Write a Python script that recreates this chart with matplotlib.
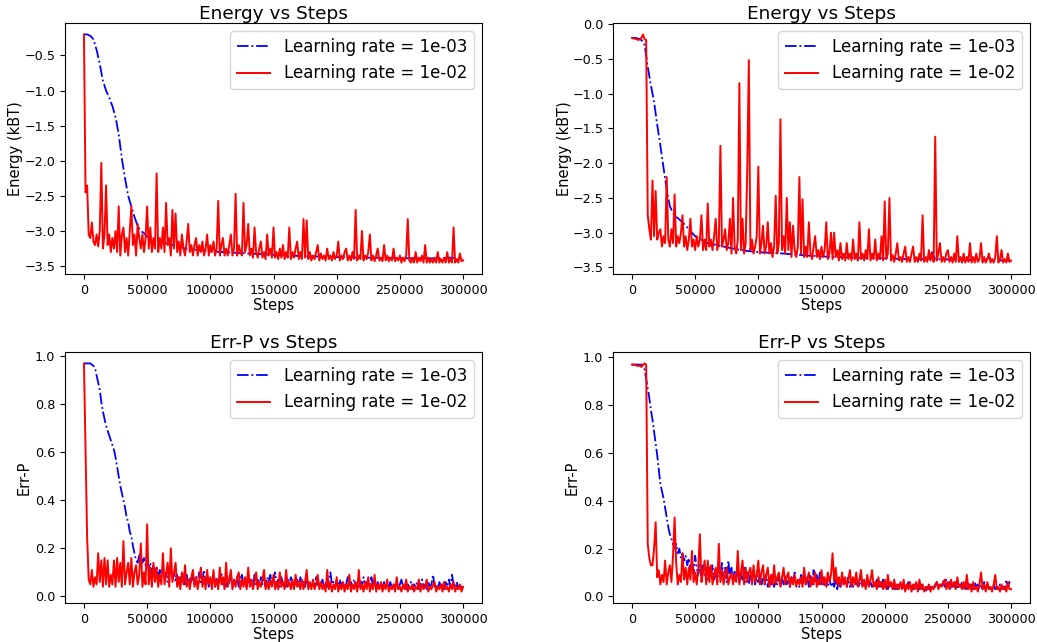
import numpy as np
import matplotlib
matplotlib.use("Agg")
import matplotlib.pyplot as plt

# ---------------- data ----------------
steps = np.arange(0, 300001, 1250)

# Energy, lr 1e-03 (smooth curves)
e1_blue_x = [0, 2500, 5000, 7500, 10000, 12500, 15000, 17500, 20000, 22500,
             25000, 27500, 30000, 32500, 35000, 37500, 40000, 42500, 45000, 47500,
             50000, 55000, 60000, 70000, 80000, 90000, 100000, 120000, 140000, 160000,
             180000, 200000, 220000, 240000, 260000, 280000, 290000, 300000]
e1_blue = [-0.20, -0.20, -0.22, -0.27, -0.42, -0.62, -0.86, -1.00, -1.10, -1.22,
           -1.38, -1.62, -1.97, -2.25, -2.50, -2.65, -2.80, -2.93, -3.00, -3.03,
           -3.08, -3.12, -3.15, -3.20, -3.25, -3.27, -3.29, -3.31, -3.33, -3.35,
           -3.36, -3.37, -3.38, -3.38, -3.39, -3.39, -3.38, -3.40]

e2_blue_x = [0, 2500, 5000, 7500, 10000, 12500, 15000, 17500, 20000, 22500,
             25000, 27500, 30000, 32500, 35000, 40000, 45000, 50000, 55000, 60000,
             70000, 80000, 90000, 100000, 120000, 140000, 160000, 180000, 200000, 220000,
             235000, 237500, 240000, 260000, 280000, 282500, 285000, 300000]
e2_blue = [-0.20, -0.20, -0.21, -0.23, -0.30, -0.62, -0.88, -1.12, -1.45, -1.75,
           -2.07, -2.38, -2.62, -2.72, -2.77, -2.85, -2.95, -3.05, -3.10, -3.15,
           -3.19, -3.23, -3.26, -3.28, -3.30, -3.33, -3.35, -3.36, -3.37, -3.38,
           -3.38, -3.28, -3.38, -3.39, -3.40, -3.35, -3.40, -3.40]

# Energy, lr 1e-02 (one value every 1250 steps)
e1_red = [
    -0.20, -2.45, -2.35, -3.05, -3.10, -2.88, -3.15, -3.20, -3.05, -3.22,
    -3.00, -2.03, -3.25, -3.05, -2.35, -3.20, -3.05, -3.30, -3.10, -3.25,
    -3.00, -3.30, -2.65, -3.35, -3.05, -2.95, -3.30, -3.10, -3.35, -3.00,
    -2.65, -3.20, -3.05, -3.35, -2.90, -3.10, -3.25, -3.05, -3.30, -3.10,
    -2.65, -3.25, -2.95, -3.30, -3.10, -3.25, -2.18, -3.30, -3.10, -3.25,
    -2.95, -3.30, -2.60, -3.20, -3.10, -3.35, -2.70, -3.25, -2.75, -3.30,
    -3.15, -3.35, -3.05, -3.25, -3.35, -3.15, -2.90, -3.30, -3.20, -3.35,
    -3.20, -3.10, -3.35, -3.20, -3.30, -3.15, -3.35, -3.25, -3.05, -3.35,
    -3.20, -3.30, -3.15, -3.35, -3.25, -2.57, -3.35, -3.20, -3.10, -3.35,
    -3.25, -3.35, -3.20, -3.05, -3.35, -3.25, -2.47, -3.35, -3.20, -3.30,
    -3.35, -2.60, -3.30, -3.20, -2.90, -3.35, -3.25, -3.38, -2.95, -3.30,
    -3.38, -3.25, -3.15, -3.38, -3.30, -3.40, -3.05, -3.35, -3.25, -3.38,
    -2.95, -3.38, -3.30, -3.40, -3.25, -3.38, -3.20, -3.40, -3.30, -3.38,
    -2.95, -3.40, -3.30, -3.38, -3.25, -3.15, -3.40, -3.30, -3.40, -2.83,
    -3.38, -2.85, -3.40, -3.30, -3.42, -3.35, -3.40, -3.30, -3.20, -3.42,
    -3.32, -3.40, -3.35, -3.42, -3.25, -3.40, -3.35, -3.42, -3.30, -3.40,
    -3.35, -3.15, -3.42, -3.35, -3.40, -3.30, -3.25, -3.42, -3.35, -3.42,
    -3.30, -3.40, -2.70, -3.42, -3.35, -3.40, -3.00, -3.42, -3.35, -3.40,
    -3.30, -3.05, -3.42, -3.35, -3.43, -3.35, -3.25, -3.42, -3.38, -3.43,
    -3.20, -3.42, -3.35, -3.43, -3.38, -3.42, -3.25, -3.43, -3.38, -3.42,
    -3.35, -3.45, -3.38, -3.43, -3.35, -2.83, -3.42, -3.45, -3.38, -3.45,
    -3.30, -3.45, -3.38, -3.43, -3.35, -3.45, -3.20, -3.45, -3.38, -3.45,
    -3.40, -3.45, -3.38, -3.45, -3.30, -3.45, -3.40, -3.45, -3.38, -3.45,
    -3.30, -3.45, -3.40, -3.45, -2.95, -3.45, -3.40, -3.45, -3.32, -3.43,
    -3.42]

e2_red = [
    -0.20, -0.21, -0.21, -0.22, -0.23, -0.22, -0.20, -0.15, -0.22, -0.23,
    -2.75, -2.95, -3.10, -2.25, -3.05, -2.40, -3.10, -3.00, -2.95, -3.20,
    -3.05, -3.15, -2.20, -3.10, -3.20, -2.95, -3.15, -2.45, -3.20, -3.05,
    -3.15, -3.00, -2.75, -3.20, -3.05, -3.25, -3.10, -2.80, -3.20, -3.10,
    -3.25, -3.05, -3.20, -3.10, -2.75, -3.25, -3.10, -3.25, -2.58, -3.20,
    -3.10, -3.25, -3.05, -2.80, -3.25, -3.15, -1.75, -3.20, -3.10, -2.95,
    -3.25, -3.15, -2.80, -3.30, -2.50, -3.20, -3.30, -3.10, -0.85, -3.25,
    -2.80, -3.30, -3.15, -2.08, -0.52, -3.25, -3.10, -3.30, -3.20, -3.05,
    -2.05, -3.30, -3.15, -2.90, -3.30, -3.20, -2.85, -3.30, -3.15, -3.35,
    -3.20, -2.47, -3.30, -3.15, -1.37, -3.25, -3.05, -3.30, -2.50, -3.25,
    -2.85, -3.35, -2.90, -3.25, -3.35, -3.20, -2.20, -3.30, -2.52, -3.35,
    -3.20, -3.35, -2.85, -3.30, -3.38, -3.20, -3.05, -3.35, -3.25, -3.38,
    -3.20, -3.35, -3.25, -2.85, -3.38, -3.30, -3.00, -3.38, -3.00, -3.35,
    -3.25, -3.40, -3.15, -3.38, -3.30, -3.40, -3.15, -3.38, -3.30, -3.40,
    -3.10, -3.38, -3.30, -3.40, -2.85, -3.38, -3.30, -3.40, -3.25, -3.38,
    -2.95, -3.40, -3.30, -3.38, -3.10, -3.40, -3.30, -3.38, -3.05, -3.40,
    -2.55, -3.38, -3.30, -2.50, -3.40, -3.32, -3.42, -3.30, -3.15, -3.40,
    -3.35, -3.42, -3.30, -3.20, -3.42, -3.35, -3.42, -3.30, -3.20, -3.42,
    -3.35, -3.42, -3.30, -3.40, -2.75, -3.42, -3.35, -3.42, -3.25, -3.40,
    -3.30, -3.42, -1.62, -3.40, -3.30, -3.15, -3.42, -3.35, -3.42, -3.30,
    -3.25, -3.42, -3.35, -3.43, -3.30, -3.42, -3.05, -3.42, -3.35, -3.43,
    -3.30, -3.43, -3.35, -3.42, -3.15, -3.43, -3.35, -3.43, -3.30, -3.42,
    -3.38, -3.15, -3.43, -3.35, -3.43, -3.38, -3.30, -3.43, -3.38, -3.43,
    -3.35, -3.05, -3.43, -3.38, -3.25, -3.43, -3.38, -3.43, -3.30, -3.42,
    -3.40]

# Err-P, lr 1e-03
p1_blue = [
    0.97, 0.97, 0.97, 0.97, 0.97, 0.965, 0.96, 0.95, 0.92, 0.89,
    0.86, 0.81, 0.77, 0.74, 0.71, 0.69, 0.67, 0.65, 0.63, 0.61,
    0.58, 0.54, 0.50, 0.46, 0.43, 0.40, 0.37, 0.33, 0.31, 0.27,
    0.25, 0.21, 0.18, 0.15, 0.14, 0.17, 0.18, 0.14, 0.16, 0.13,
    0.15, 0.12, 0.14, 0.10, 0.13, 0.09, 0.12, 0.08, 0.11, 0.08,
    0.12, 0.07, 0.10, 0.06, 0.09, 0.11, 0.07, 0.10, 0.06, 0.09,
    0.05, 0.08, 0.06, 0.10, 0.05, 0.09, 0.05, 0.08, 0.06, 0.09,
    0.05, 0.08, 0.06, 0.10, 0.05, 0.07, 0.11, 0.05, 0.08, 0.04,
    0.07, 0.05, 0.09, 0.04, 0.08, 0.05, 0.07, 0.10, 0.05, 0.08,
    0.04, 0.07, 0.05, 0.09, 0.04, 0.07, 0.05, 0.08, 0.04, 0.07,
    0.09, 0.05, 0.07, 0.04, 0.08, 0.05, 0.07, 0.04, 0.09, 0.05,
    0.07, 0.04, 0.08, 0.05, 0.07, 0.04, 0.08, 0.06, 0.09, 0.05,
    0.07, 0.10, 0.05, 0.07, 0.04, 0.08, 0.05, 0.06, 0.04, 0.07,
    0.05, 0.08, 0.04, 0.06, 0.05, 0.07, 0.04, 0.08, 0.05, 0.06,
    0.04, 0.07, 0.05, 0.06, 0.04, 0.06, 0.04, 0.08, 0.04, 0.06,
    0.05, 0.07, 0.04, 0.06, 0.04, 0.07, 0.10, 0.05, 0.06, 0.04,
    0.06, 0.04, 0.07, 0.04, 0.06, 0.04, 0.05, 0.08, 0.04, 0.06,
    0.04, 0.07, 0.04, 0.05, 0.04, 0.07, 0.04, 0.08, 0.05, 0.06,
    0.04, 0.05, 0.08, 0.04, 0.05, 0.04, 0.06, 0.03, 0.05, 0.04,
    0.06, 0.03, 0.05, 0.04, 0.06, 0.03, 0.05, 0.04, 0.06, 0.03,
    0.05, 0.07, 0.04, 0.05, 0.03, 0.05, 0.04, 0.06, 0.03, 0.05,
    0.04, 0.06, 0.03, 0.05, 0.07, 0.04, 0.05, 0.03, 0.06, 0.04,
    0.05, 0.09, 0.04, 0.05, 0.03, 0.06, 0.04, 0.05, 0.03, 0.06,
    0.04, 0.07, 0.04, 0.09, 0.05, 0.04, 0.06, 0.03, 0.05, 0.04,
    0.04]

p2_blue = [
    0.97, 0.97, 0.97, 0.97, 0.97, 0.97, 0.97, 0.965, 0.95, 0.91,
    0.87, 0.83, 0.78, 0.74, 0.69, 0.64, 0.59, 0.53, 0.47, 0.44,
    0.41, 0.37, 0.33, 0.29, 0.26, 0.24, 0.22, 0.20, 0.22, 0.18,
    0.20, 0.16, 0.18, 0.15, 0.17, 0.13, 0.16, 0.11, 0.15, 0.10,
    0.17, 0.12, 0.09, 0.14, 0.08, 0.13, 0.09, 0.12, 0.07, 0.12,
    0.08, 0.13, 0.07, 0.11, 0.06, 0.12, 0.08, 0.14, 0.07, 0.12,
    0.06, 0.15, 0.08, 0.12, 0.06, 0.11, 0.07, 0.12, 0.06, 0.10,
    0.07, 0.12, 0.06, 0.10, 0.05, 0.09, 0.06, 0.11, 0.05, 0.09,
    0.06, 0.10, 0.05, 0.08, 0.05, 0.09, 0.04, 0.08, 0.05, 0.09,
    0.04, 0.07, 0.05, 0.08, 0.04, 0.07, 0.05, 0.09, 0.05, 0.07,
    0.04, 0.08, 0.05, 0.10, 0.05, 0.07, 0.04, 0.09, 0.05, 0.11,
    0.05, 0.08, 0.04, 0.09, 0.05, 0.11, 0.06, 0.09, 0.05, 0.10,
    0.05, 0.08, 0.04, 0.07, 0.04, 0.08, 0.04, 0.06, 0.04, 0.07,
    0.03, 0.08, 0.04, 0.09, 0.05, 0.07, 0.04, 0.08, 0.04, 0.06,
    0.04, 0.07, 0.05, 0.06, 0.04, 0.08, 0.04, 0.06, 0.04, 0.07,
    0.04, 0.06, 0.04, 0.05, 0.04, 0.07, 0.04, 0.06, 0.04, 0.07,
    0.04, 0.05, 0.03, 0.06, 0.04, 0.05, 0.03, 0.05, 0.03, 0.05,
    0.04, 0.05, 0.03, 0.05, 0.04, 0.06, 0.03, 0.05, 0.03, 0.05,
    0.03, 0.04, 0.03, 0.05, 0.03, 0.04, 0.02, 0.04, 0.03, 0.04,
    0.03, 0.05, 0.04, 0.06, 0.04, 0.05, 0.04, 0.06, 0.04, 0.07,
    0.04, 0.06, 0.03, 0.05, 0.04, 0.06, 0.03, 0.05, 0.04, 0.06,
    0.03, 0.05, 0.03, 0.06, 0.04, 0.05, 0.03, 0.06, 0.04, 0.05,
    0.03, 0.05, 0.03, 0.06, 0.03, 0.05, 0.03, 0.04, 0.03, 0.05,
    0.03, 0.04, 0.03, 0.05, 0.03, 0.04, 0.03, 0.07, 0.04, 0.06,
    0.05]

# Err-P, lr 1e-02
p1_red = [
    0.97, 0.60, 0.25, 0.07, 0.05, 0.11, 0.04, 0.08, 0.05, 0.18,
    0.06, 0.15, 0.04, 0.16, 0.05, 0.15, 0.04, 0.09, 0.05, 0.15,
    0.04, 0.16, 0.06, 0.14, 0.04, 0.23, 0.05, 0.10, 0.14, 0.05,
    0.16, 0.04, 0.10, 0.13, 0.05, 0.09, 0.22, 0.04, 0.10, 0.05,
    0.30, 0.05, 0.12, 0.04, 0.14, 0.06, 0.12, 0.04, 0.09, 0.05,
    0.18, 0.05, 0.09, 0.14, 0.04, 0.20, 0.06, 0.10, 0.14, 0.04,
    0.08, 0.03, 0.10, 0.05, 0.13, 0.04, 0.07, 0.03, 0.08, 0.11,
    0.04, 0.08, 0.03, 0.07, 0.12, 0.04, 0.08, 0.03, 0.11, 0.05,
    0.08, 0.03, 0.11, 0.04, 0.07, 0.03, 0.12, 0.05, 0.08, 0.03,
    0.14, 0.04, 0.07, 0.11, 0.03, 0.07, 0.04, 0.08, 0.10, 0.03,
    0.07, 0.04, 0.08, 0.03, 0.12, 0.04, 0.07, 0.03, 0.06, 0.10,
    0.03, 0.06, 0.04, 0.07, 0.11, 0.03, 0.06, 0.03, 0.07, 0.04,
    0.09, 0.03, 0.06, 0.03, 0.10, 0.04, 0.06, 0.03, 0.11, 0.04,
    0.06, 0.03, 0.07, 0.03, 0.09, 0.04, 0.06, 0.03, 0.07, 0.03,
    0.06, 0.11, 0.03, 0.06, 0.03, 0.07, 0.03, 0.05, 0.09, 0.03,
    0.06, 0.03, 0.05, 0.02, 0.11, 0.03, 0.06, 0.02, 0.05, 0.03,
    0.08, 0.02, 0.05, 0.03, 0.06, 0.02, 0.05, 0.03, 0.09, 0.02,
    0.05, 0.03, 0.06, 0.02, 0.11, 0.03, 0.05, 0.02, 0.06, 0.03,
    0.08, 0.02, 0.05, 0.03, 0.09, 0.02, 0.05, 0.03, 0.06, 0.02,
    0.05, 0.03, 0.07, 0.02, 0.04, 0.03, 0.05, 0.02, 0.08, 0.03,
    0.04, 0.02, 0.05, 0.03, 0.07, 0.02, 0.04, 0.03, 0.05, 0.02,
    0.04, 0.03, 0.07, 0.02, 0.05, 0.03, 0.04, 0.07, 0.02, 0.04,
    0.03, 0.05, 0.06, 0.02, 0.04, 0.03, 0.05, 0.02, 0.06, 0.03,
    0.04, 0.02, 0.05, 0.03, 0.06, 0.02, 0.04, 0.03, 0.05, 0.02,
    0.04]

p2_red = [
    0.97, 0.97, 0.97, 0.965, 0.965, 0.965, 0.96, 0.97, 0.975, 0.97,
    0.22, 0.16, 0.13, 0.13, 0.20, 0.31, 0.08, 0.11, 0.05, 0.09,
    0.06, 0.15, 0.05, 0.10, 0.13, 0.06, 0.17, 0.33, 0.14, 0.05,
    0.09, 0.06, 0.18, 0.07, 0.12, 0.05, 0.12, 0.07, 0.19, 0.06,
    0.10, 0.05, 0.12, 0.26, 0.06, 0.10, 0.15, 0.05, 0.15, 0.06,
    0.13, 0.05, 0.09, 0.12, 0.05, 0.22, 0.06, 0.11, 0.05, 0.09,
    0.12, 0.05, 0.08, 0.10, 0.05, 0.09, 0.06, 0.19, 0.05, 0.10,
    0.15, 0.05, 0.12, 0.06, 0.10, 0.12, 0.05, 0.13, 0.06, 0.09,
    0.15, 0.05, 0.10, 0.13, 0.05, 0.09, 0.12, 0.04, 0.09, 0.05,
    0.13, 0.05, 0.08, 0.10, 0.04, 0.08, 0.12, 0.05, 0.08, 0.10,
    0.04, 0.08, 0.05, 0.09, 0.04, 0.07, 0.05, 0.08, 0.04, 0.12,
    0.05, 0.07, 0.10, 0.04, 0.08, 0.05, 0.10, 0.04, 0.07, 0.05,
    0.11, 0.05, 0.08, 0.04, 0.10, 0.06, 0.09, 0.18, 0.06, 0.12,
    0.05, 0.08, 0.04, 0.10, 0.05, 0.08, 0.04, 0.07, 0.11, 0.04,
    0.08, 0.05, 0.10, 0.04, 0.07, 0.11, 0.04, 0.07, 0.03, 0.09,
    0.04, 0.07, 0.11, 0.04, 0.06, 0.03, 0.08, 0.04, 0.06, 0.03,
    0.07, 0.03, 0.09, 0.04, 0.06, 0.03, 0.07, 0.03, 0.05, 0.03,
    0.06, 0.03, 0.07, 0.02, 0.05, 0.03, 0.06, 0.02, 0.05, 0.03,
    0.06, 0.02, 0.07, 0.03, 0.05, 0.02, 0.04, 0.03, 0.05, 0.02,
    0.04, 0.03, 0.05, 0.06, 0.03, 0.05, 0.04, 0.06, 0.07, 0.03,
    0.06, 0.03, 0.07, 0.04, 0.06, 0.03, 0.08, 0.04, 0.05, 0.03,
    0.06, 0.03, 0.09, 0.03, 0.05, 0.02, 0.06, 0.03, 0.04, 0.02,
    0.05, 0.10, 0.03, 0.05, 0.02, 0.06, 0.03, 0.04, 0.02, 0.05,
    0.09, 0.03, 0.04, 0.02, 0.05, 0.03, 0.04, 0.02, 0.06, 0.03,
    0.03]

labels = ["Learning rate = 1e-03", "Learning rate = 1e-02"]
titles = ["Energy vs Steps", "Energy vs Steps", "Err-P vs Steps", "Err-P vs Steps"]
ylabels = ["Energy (kBT)", "Energy (kBT)", "Err-P", "Err-P"]
xticks = [0, 50000, 100000, 150000, 200000, 250000, 300000]

# ---------------- plot ----------------
fig = plt.figure(figsize=(10.37, 6.42), dpi=100)
W, H = 1037, 642
def ax_at(l, t, r, b):
    return fig.add_axes([l / W, 1 - b / H, (r - l) / W, (b - t) / H])

axes = [ax_at(65, 23, 482, 274), ax_at(613, 23, 1030, 274),
        ax_at(65, 352, 482, 603), ax_at(613, 352, 1030, 603)]

series = [
    (e1_blue_x, e1_blue, steps, e1_red),
    (e2_blue_x, e2_blue, steps, e2_red),
    (steps, p1_blue, steps, p1_red),
    (steps, p2_blue, steps, p2_red),
]
ylab_x = [-0.100, -0.098, -0.079, -0.079]

for i, (ax, (bx, by, rx, ry)) in enumerate(zip(axes, series)):
    ax.plot(bx, by, "b-.", linewidth=1.3, label=labels[0])
    ax.plot(rx, ry, "r-", linewidth=1.4, label=labels[1])
    ax.set_title(titles[i], fontsize=13.3, pad=3)
    ax.set_xlabel("Steps", fontsize=10.5, labelpad=1)
    ax.set_ylabel(ylabels[i], fontsize=10.5)
    ax.yaxis.set_label_coords(ylab_x[i], 0.5)
    ax.tick_params(labelsize=9.2)
    ax.set_xticks(xticks)
    ax.legend(loc="upper right", fontsize=12)

fig.savefig("out.png", dpi=100)
